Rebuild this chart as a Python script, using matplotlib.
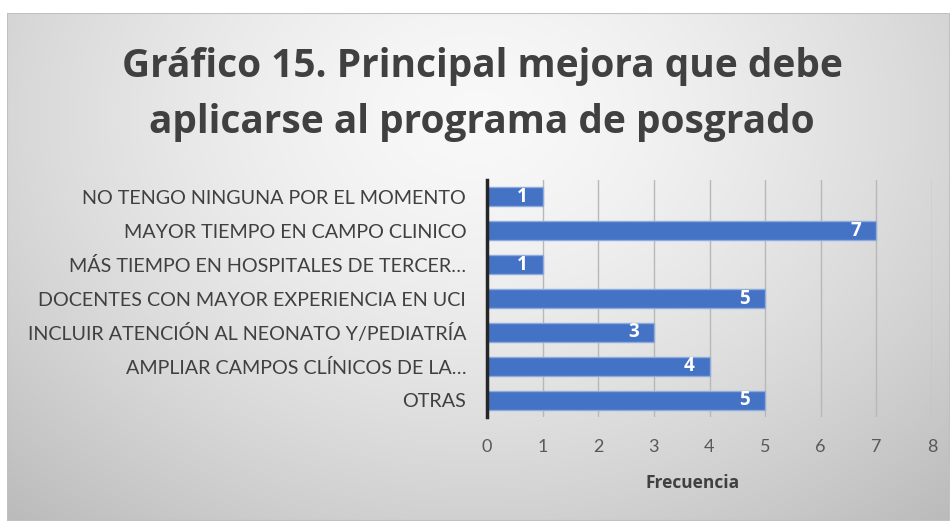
import numpy as np
import matplotlib
matplotlib.use("Agg")
import matplotlib.pyplot as plt
from matplotlib.patches import Rectangle

categories = [
    "NO TENGO NINGUNA POR EL MOMENTO",
    "MAYOR TIEMPO EN CAMPO CLINICO",
    "MÁS TIEMPO EN HOSPITALES DE TERCER…",
    "DOCENTES CON MAYOR EXPERIENCIA EN UCI",
    "INCLUIR ATENCIÓN AL NEONATO Y/PEDIATRÍA",
    "AMPLIAR CAMPOS CLÍNICOS DE LA…",
    "OTRAS",
]
values = [1, 7, 1, 5, 3, 4, 5]
xticks = [0, 1, 2, 3, 4, 5, 6, 7, 8]
title_lines = ["Gráfico 15. Principal mejora que debe", "aplicarse al programa de posgrado"]
xlabel = "Frecuencia"

W, H = 950, 521
fig = plt.figure(figsize=(W / 100, H / 100), dpi=100)
fig.patch.set_facecolor("white")

# background chart area with radial gradient
bx0, by0, bx1, by1 = 7, 13, 950, 521
bg = fig.add_axes([bx0 / W, 1 - by1 / H, (bx1 - bx0) / W, (by1 - by0) / H])
yy, xx = np.mgrid[0:1:300j, 0:1:500j]
d = np.sqrt(((xx - 0.5) / 0.7) ** 2 + ((yy - 0.2) / 1.0) ** 2)
val = 0.975 - 0.22 * np.clip(d, 0, 1.2) ** 1.5
bg.imshow(np.dstack([val, val, val]), aspect="auto", extent=[0, 1, 0, 1], origin="upper")
bg.set_xlim(0, 1); bg.set_ylim(0, 1)
bg.axis("off")
bg.add_patch(Rectangle((0, 0), 1, 1, fill=False, edgecolor="#c0c0c0", lw=1.5, transform=bg.transAxes))

for line, base in zip(title_lines, [77, 133]):
    fig.text(482 / W, 1 - base / H, line, ha="center", va="baseline", fontsize=28,
             fontweight="bold", color="#404040", family="Open Sans")

ax_l, ax_r, ax_t, ax_b = 487, 932, 180, 417
ax = fig.add_axes([ax_l / W, 1 - ax_b / H, (ax_r - ax_l) / W, (ax_b - ax_t) / H])
ax.patch.set_alpha(0)
y = np.arange(len(categories))
bars = ax.barh(y, values, height=0.56, color="#4472C4", edgecolor="#8FAADC", linewidth=1.0, zorder=3)
ax.set_ylim(len(categories) - 0.5, -0.5)
ax.set_xlim(0, 8)
ax.set_xticks(xticks)
ax.set_xticklabels([str(t) for t in xticks], fontsize=13, color="#595959", family="Lato")
ax.set_yticks(y)
ax.set_yticklabels(categories, fontsize=14.2, color="#404040", family="Lato")
ax.tick_params(axis="y", length=0, pad=15)
ax.tick_params(axis="x", length=0, pad=16)
ax.grid(axis="x", color="#b8b8b8", lw=1, zorder=0)
for s in ["top", "right", "bottom"]:
    ax.spines[s].set_visible(False)
ax.spines["left"].set_color("#262626")
ax.spines["left"].set_linewidth(2.5)
ax.spines["left"].set_zorder(5)

for b, v in zip(bars, values):
    ax.text(v - 0.37, b.get_y() + b.get_height() / 2, str(v), ha="center", va="center",
            color="white", fontweight="bold", fontsize=13.5, family="Open Sans", zorder=4)

fig.text(693 / W, 1 - 483 / H, xlabel, ha="center", va="center", fontsize=12.5,
         fontweight="bold", color="#404040", family="Open Sans")

fig.savefig("out.png", dpi=100, facecolor=fig.get_facecolor())
